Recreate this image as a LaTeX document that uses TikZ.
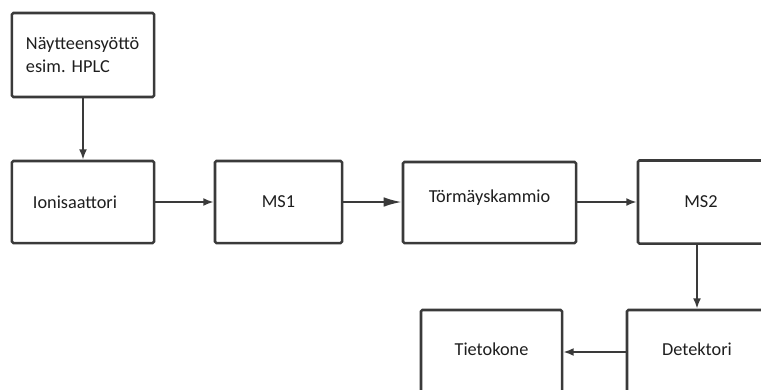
\documentclass[tikz,border=0pt]{standalone}
\usepackage{fontspec}
\setmainfont{Carlito}
\usepackage{xcolor}
\usetikzlibrary{arrows.meta,positioning}
\definecolor{boxline}{HTML}{3A3A3A}
\definecolor{textdark}{HTML}{1E1E1E}
\tikzset{
  unitbox/.style={draw=boxline,line width=1.8pt,rounded corners=1pt,
    align=center,text=textdark,inner sep=0pt},
  flow/.style={draw=boxline,line width=1.4pt,-{Latex[length=2.6mm,width=2mm]}}
}
\begin{document}
\begin{tikzpicture}[x=0.025cm,y=-0.025cm,font=\fontsize{13}{16.5}\selectfont]
  % Frame (right and bottom boxes run off the page)
  \path[use as bounding box,clip] (0,0) rectangle (761,389);
  % Top row
  \node[unitbox,minimum width=3.55cm,minimum height=2.1cm,
    text width=2.85cm,align=left] (feed) at (83,55)
    {Näytteensyöttö\\esim.\ HPLC};
  \node[unitbox,minimum width=3.55cm,minimum height=2.05cm] (ion) at (83,202)
    {\hspace*{-0.4cm}Ionisaattori};
  \node[unitbox,minimum width=3.175cm,minimum height=2.05cm] (ms1) at (278.5,202) {MS1};
  \node[unitbox,minimum width=4.325cm,minimum height=2.025cm,
    text depth=0.3cm] (coll) at (489.5,202.5) {Törmäyskammio};
  \node[unitbox,minimum width=3.15cm,minimum height=2.075cm] (ms2) at (701,202) {MS2};
  % Bottom row
  \node[unitbox,minimum width=3.5cm,minimum height=2.5cm,
    text depth=0.55cm] (det) at (697,360) {Detektori};
  \node[unitbox,minimum width=3.525cm,minimum height=2.5cm,
    text depth=0.55cm] (pc) at (491.5,360) {Tietokone};
  % Connectors
  \draw[flow] (feed.south) -- (ion.north);
  \draw[flow] (ion.east) -- (ms1.west);
  \draw[flow,-{Latex[length=4.5mm,width=2.4mm]}] (ms1.east) -- (coll.west |- ms1.east);
  \draw[flow] (coll.east |- ms2.west) -- (ms2.west);
  \draw[flow] (ms2.south -| det.north) -- (det.north);
  \draw[flow] ([yshift=0.2cm]det.west) -- ([yshift=0.2cm]pc.east);
\end{tikzpicture}
\end{document}
